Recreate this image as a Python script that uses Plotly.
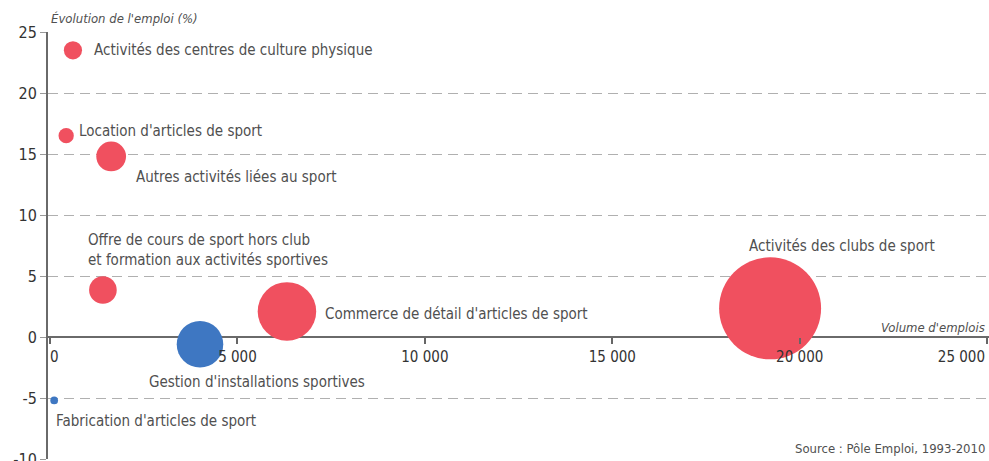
import plotly.graph_objects as go

# ---- data ----
secteurs = [
    "Activités des centres de culture physique",
    "Location d'articles de sport",
    "Autres activités liées au sport",
    "Offre de cours de sport hors club<br>et formation aux activités sportives",
    "Gestion d'installations sportives",
    "Commerce de détail d'articles de sport",
    "Activités des clubs de sport",
    "Fabrication d'articles de sport",
]
volume_emplois = [610, 430, 1630, 1410, 4000, 6320, 19210, 110]
evolution_pct = [23.5, 16.5, 14.8, 3.85, -0.6, 2.1, 2.35, -5.2]

x_tickvals = [0, 5000, 10000, 15000, 20000, 25000]
x_ticktext = ["&nbsp;&nbsp;0", "5 000", "10 000", "15 000", "20 000",
              "25 000" + "&nbsp;" * 12]
y_tickvals = [-10, -5, 0, 5, 10, 15, 20, 25]
y_ticktext = ["-10", "-5", "0", "5", "10", "15", "20", "25"]

# label placement (pixel offsets from bubble centre)
label_layout = [
    dict(xanchor="left", xshift=19, yshift=0),
    dict(xanchor="left", xshift=11, yshift=5),
    dict(xanchor="left", xshift=23, yshift=-21),
    dict(xanchor="left", xshift=-17, yshift=40),
    dict(xanchor="left", xshift=-53, yshift=-38),
    dict(xanchor="left", xshift=36, yshift=-3),
    dict(xanchor="center", xshift=72, yshift=62),
    dict(xanchor="left", xshift=0, yshift=-21),
]

RED = "#F0505F"
BLUE = "#3E77C2"
FONT = "Liberation Sans Narrow, DejaVu Sans Condensed, Arial Narrow, sans-serif"
TXT = "#505050"

colors = [BLUE if v < 0 else RED for v in evolution_pct]
max_r = 51
sizeref = 2.0 * max(volume_emplois) / (2 * max_r) ** 2

fig = go.Figure()
fig.add_trace(go.Scatter(
    x=volume_emplois, y=evolution_pct, mode="markers",
    marker=dict(size=volume_emplois, sizemode="area", sizeref=sizeref,
                color=colors, opacity=1, line=dict(width=0)),
    hoverinfo="skip", showlegend=False, cliponaxis=False,
))

for name, xv, yv, lay in zip(secteurs, volume_emplois, evolution_pct, label_layout):
    fig.add_annotation(x=xv, y=yv, xref="x", yref="y", text=name, showarrow=False,
                       yanchor="middle", align="left",
                       font=dict(family=FONT, size=15, color=TXT), **lay)

fig.add_annotation(xref="paper", yref="paper", x=0, y=1, xanchor="left", yanchor="middle",
                   yshift=14, xshift=1, text="<i>Évolution de l'emploi (%)</i>", showarrow=False,
                   font=dict(family=FONT, size=13, color=TXT))
fig.add_annotation(xref="paper", yref="y", x=1, y=0, xanchor="right", yanchor="middle",
                   yshift=10, xshift=-2, text="<i>Volume d'emplois</i>", showarrow=False,
                   font=dict(family=FONT, size=13, color=TXT))
fig.add_annotation(xref="paper", yref="paper", x=1, y=0, xanchor="right", yanchor="middle",
                   yshift=11, xshift=-2, text="Source : Pôle Emploi, 1993-2010", showarrow=False,
                   font=dict(family=FONT, size=13, color=TXT))

ymin, ymax = -10, 25
fig.update_layout(
    width=989, height=461,
    margin=dict(l=48, r=0, t=32, b=2, autoexpand=False),
    paper_bgcolor="white", plot_bgcolor="white",
    font=dict(family=FONT, color=TXT),
    xaxis=dict(range=[-55, 25050], tickvals=x_tickvals, ticktext=x_ticktext,
               anchor="free", position=(0 - ymin) / (ymax - ymin),
               showgrid=False, zeroline=False, showline=False, automargin=False,
               ticks="outside", ticklen=6, tickcolor="#666", tickwidth=1.5,
               ticklabeloverflow="allow",
               tickfont=dict(family=FONT, size=15, color="#333")),
    yaxis=dict(range=[ymin, ymax], tickvals=y_tickvals, ticktext=y_ticktext,
               showgrid=True, gridcolor="#b0b0b0", griddash="10px,6px", gridwidth=1,
               zeroline=True, zerolinecolor="#6a6a6a", zerolinewidth=2,
               showline=True, linecolor="#6a6a6a", linewidth=2, automargin=False,
               ticks="outside", ticklen=6, tickcolor="#999",
               ticklabeloverflow="allow",
               tickfont=dict(family=FONT, size=16, color="#333")),
)

fig.write_html("out.html")
